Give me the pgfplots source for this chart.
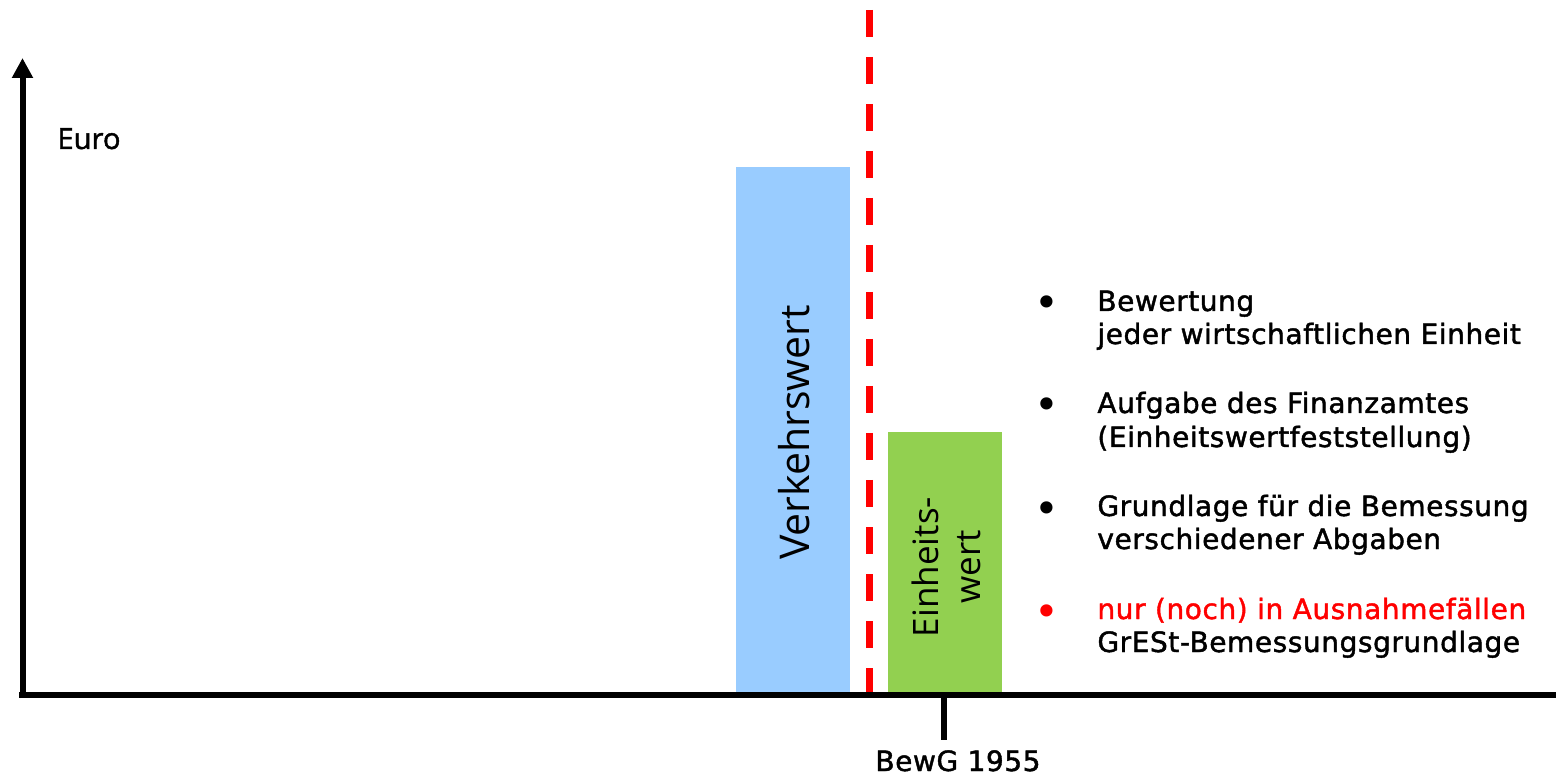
\documentclass[border=0pt]{standalone}
\usepackage{pgfplots}
\pgfplotsset{compat=1.18}
\usepackage{fontspec}
\setmainfont{DejaVu Sans}[LetterSpace=2, FakeBold=1.5]
\newfontfamily\bulletfont{DejaVu Sans}
\newfontfamily\opensans{Open Sans}
\newfontfamily\opensansb{Open Sans}[FakeBold=1.5]
\usetikzlibrary{arrows.meta}
\definecolor{barblue}{HTML}{99CCFF}
\definecolor{bargreen}{HTML}{92D050}
\definecolor{myred}{HTML}{FF0000}
\begin{document}
\begin{tikzpicture}
\begin{axis}[width=778pt, height=388pt, scale only axis,
  xmin=0, xmax=1556, ymin=-84, ymax=692, hide axis, clip=false]
% bars
\addplot[ybar, bar width=114, bar shift=0pt, fill=barblue, draw=none] coordinates {(793,525)};
\addplot[ybar, bar width=114, bar shift=0pt, fill=bargreen, draw=none] coordinates {(945,260)};
% dashed red line
\addplot[myred, line width=3.5pt, dash pattern=on 13.5pt off 10pt, line cap=butt] coordinates {(869.5,682) (869.5,0)};
% axes
\draw[line width=3pt] (axis cs:19,-3) -- (axis cs:1556,-3);
\draw[line width=3pt, -{Triangle[length=10pt,width=10pt]}] (axis cs:22.5,-6) -- (axis cs:22.5,634);
\draw[line width=3pt] (axis cs:944,-3) -- (axis cs:944,-48);
% labels
\node[anchor=base west, inner sep=0pt, font=\opensansb\fontsize{14.6pt}{16pt}\selectfont] at (axis cs:57,543) {Euro};
\node[anchor=base, inner sep=0pt, font={\fontsize{14pt}{16pt}\selectfont}] at (axis cs:958,-79) {BewG 1955};
\node[rotate=90, anchor=base, inner sep=0pt, font=\opensans\fontsize{20.5pt}{24pt}\selectfont] at (axis cs:809,259.5) {Verkehrswert};
\node[rotate=90, anchor=base, inner sep=0pt, font=\opensans\fontsize{17.5pt}{20pt}\selectfont] at (axis cs:938,125) {Einheits-};
\node[rotate=90, anchor=base, inner sep=0pt, font=\opensans\fontsize{17.5pt}{20pt}\selectfont] at (axis cs:980,125) {wert};
% bullet list
\begin{scope}[every node/.style={inner sep=0pt, font={\fontsize{14pt}{16pt}\selectfont}},
  bul/.style={anchor=base, inner sep=0pt, font={\bulletfont\fontsize{21pt}{22pt}\selectfont}}]
\node[bul] at (axis cs:1047,374) {•};
\node[anchor=base west] at (axis cs:1097,381) {Bewertung};
\node[anchor=base west] at (axis cs:1097,348) {jeder wirtschaftlichen Einheit};
\node[bul] at (axis cs:1047,272) {•};
\node[anchor=base west] at (axis cs:1097,279) {Aufgabe des Finanzamtes};
\node[anchor=base west] at (axis cs:1097,245) {(Einheitswertfeststellung)};
\node[bul] at (axis cs:1047,169) {•};
\node[anchor=base west] at (axis cs:1097,176) {Grundlage für die Bemessung};
\node[anchor=base west] at (axis cs:1097,143) {verschiedener Abgaben};
\node[bul, text=myred] at (axis cs:1047,66) {•};
\node[anchor=base west, text=myred] at (axis cs:1097,73) {nur (noch) in Ausnahmefällen};
\node[anchor=base west] at (axis cs:1097,40) {GrESt-Bemessungsgrundlage};
\end{scope}
\end{axis}
\pgfresetboundingbox
\path (current axis.south west) rectangle (current axis.north east);
\end{tikzpicture}
\end{document}
